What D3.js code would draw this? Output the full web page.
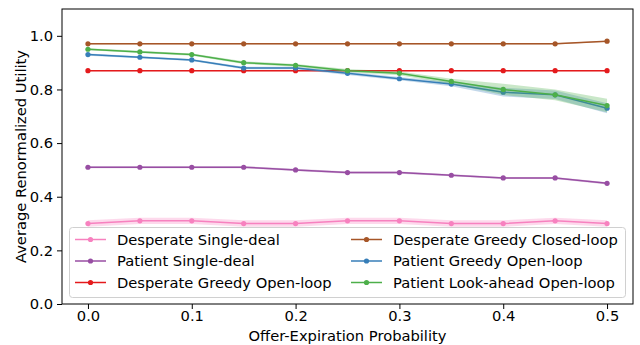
<!DOCTYPE html>
<html>
<head>
<meta charset="utf-8">
<script src="https://cdn.jsdelivr.net/npm/d3@7"></script>
<style>
  body { margin: 0; background: #fff; }
  text { font-family: "DejaVu Sans", sans-serif; fill: #000; }
</style>
</head>
<body>
<script>
// values
const xs = [0, 0.05, 0.1, 0.15, 0.2, 0.25, 0.3, 0.35, 0.4, 0.45, 0.5];

const names = [
    "Desperate Single-deal",
    "Patient Single-deal",
    "Desperate Greedy Open-loop",
    "Desperate Greedy Closed-loop",
    "Patient Greedy Open-loop",
    "Patient Look-ahead Open-loop"
];
const colors = ["#f781bf", "#984ea3", "#e41a1c", "#a65628", "#377eb8", "#4daf4a"];

const desperateSingle = [0.30, 0.31, 0.31, 0.30, 0.30, 0.31, 0.31, 0.30, 0.30, 0.31, 0.30];
const patientSingle   = [0.51, 0.51, 0.51, 0.51, 0.50, 0.49, 0.49, 0.48, 0.47, 0.47, 0.45];
const despGreedyOpen  = [0.87, 0.87, 0.87, 0.87, 0.87, 0.87, 0.87, 0.87, 0.87, 0.87, 0.87];
const despGreedyClose = [0.97, 0.97, 0.97, 0.97, 0.97, 0.97, 0.97, 0.97, 0.97, 0.97, 0.98];
const patGreedyOpen   = [0.93, 0.92, 0.91, 0.88, 0.88, 0.86, 0.84, 0.82, 0.79, 0.78, 0.73];
const patLookahead    = [0.95, 0.94, 0.93, 0.90, 0.89, 0.87, 0.86, 0.83, 0.80, 0.78, 0.74];

// half-width of the shaded bands
const errSingleD = [0.012, 0.012, 0.012, 0.012, 0.012, 0.012, 0.012, 0.012, 0.012, 0.012, 0.012];
const errSingleP = [0.004, 0.004, 0.004, 0.004, 0.004, 0.004, 0.004, 0.004, 0.004, 0.004, 0.004];
const errGreedyD = [0.002, 0.002, 0.002, 0.002, 0.002, 0.002, 0.002, 0.002, 0.002, 0.002, 0.002];
const errClosedD = [0.002, 0.002, 0.002, 0.002, 0.002, 0.002, 0.002, 0.002, 0.002, 0.002, 0.002];
const errGreedyP = [0.004, 0.004, 0.004, 0.005, 0.005, 0.006, 0.006, 0.008, 0.016, 0.016, 0.019];
const errLookP   = [0.004, 0.004, 0.004, 0.005, 0.005, 0.006, 0.007, 0.010, 0.021, 0.020, 0.025];

const seriesValues = [desperateSingle, patientSingle, despGreedyOpen, despGreedyClose, patGreedyOpen, patLookahead];
const seriesErr = [errSingleD, errSingleP, errGreedyD, errClosedD, errGreedyP, errLookP];

const xTicks = [0, 0.1, 0.2, 0.3, 0.4, 0.5];
const yTicks = [0, 0.2, 0.4, 0.6, 0.8, 1.0];

const width = 640, height = 345;
const margin = {left: 62, right: 7, top: 9, bottom: 41};
const fontSize = 14.7;

const x = d3.scaleLinear()
    .domain([-0.025, 0.525])
    .range([margin.left, width - margin.right]);
const y = d3.scaleLinear()
    .domain([0, 1.1])
    .range([height - margin.bottom, margin.top]);

const svg = d3.select("body").append("svg")
    .attr("width", width)
    .attr("height", height);

const series = names.map(function (n, i) {
    return {
        name: n,
        color: colors[i],
        points: xs.map(function (xv, j) {
            return {x: xv, y: seriesValues[i][j], e: seriesErr[i][j]};
        })
    };
});

const area = d3.area()
    .x(function (d) { return x(d.x); })
    .y0(function (d) { return y(d.y - d.e); })
    .y1(function (d) { return y(d.y + d.e); });
const line = d3.line()
    .x(function (d) { return x(d.x); })
    .y(function (d) { return y(d.y); });

const g = svg.selectAll("g.series")
    .data(series)
    .enter()
    .append("g")
    .attr("class", "series");

g.append("path")
    .attr("d", function (d) { return area(d.points); })
    .attr("fill", function (d) { return d.color; })
    .attr("opacity", 0.3);

g.append("path")
    .attr("d", function (d) { return line(d.points); })
    .attr("fill", "none")
    .attr("stroke", function (d) { return d.color; })
    .attr("stroke-width", 1.5);

g.selectAll("circle")
    .data(function (d) { return d.points.map(function (p) { return {p: p, c: d.color}; }); })
    .enter()
    .append("circle")
    .attr("cx", function (d) { return x(d.p.x); })
    .attr("cy", function (d) { return y(d.p.y); })
    .attr("r", 2.6)
    .attr("fill", function (d) { return d.c; });

// axes
const xAxis = svg.append("g")
    .attr("transform", "translate(0," + (height - margin.bottom) + ")")
    .call(d3.axisBottom(x).tickValues(xTicks).tickFormat(d3.format(".1f")).tickSize(5).tickSizeOuter(0));
const yAxis = svg.append("g")
    .attr("transform", "translate(" + margin.left + ",0)")
    .call(d3.axisLeft(y).tickValues(yTicks).tickFormat(d3.format(".1f")).tickSize(5).tickSizeOuter(0));

[xAxis, yAxis].forEach(function (a) {
    a.select(".domain").remove();
    a.selectAll("line").attr("stroke", "#000").attr("stroke-width", 1);
    a.selectAll("text").attr("font-size", fontSize).attr("font-family", "DejaVu Sans");
});
xAxis.selectAll("text").attr("y", 7);
yAxis.selectAll("text").attr("x", -9);

svg.append("rect")
    .attr("x", margin.left)
    .attr("y", margin.top)
    .attr("width", width - margin.left - margin.right)
    .attr("height", height - margin.top - margin.bottom)
    .attr("fill", "none")
    .attr("stroke", "#000")
    .attr("stroke-width", 1);

svg.append("text")
    .attr("x", (x.range()[0] + x.range()[1]) / 2)
    .attr("y", 340.5)
    .attr("text-anchor", "middle")
    .attr("font-size", fontSize)
    .text("Offer-Expiration Probability");

svg.append("text")
    .attr("transform", "translate(26," + ((y.range()[0] + y.range()[1]) / 2) + ") rotate(-90)")
    .attr("text-anchor", "middle")
    .attr("font-size", fontSize)
    .text("Average Renormalized Utility");

// legend, two columns
const legend = svg.append("g");
legend.append("rect")
    .attr("x", 69.5).attr("y", 227.5)
    .attr("width", 556).attr("height", 70)
    .attr("rx", 3)
    .attr("fill", "#fff").attr("fill-opacity", 0.8)
    .attr("stroke", "#d0d0d0");

const colX = [75, 351];
const rowY = [239.5, 261, 282.5];
series.forEach(function (s, i) {
    const cx = colX[Math.floor(i / 3)], cy = rowY[i % 3];
    const item = legend.append("g").attr("transform", "translate(" + cx + "," + cy + ")");
    item.append("line")
        .attr("x1", 0).attr("x2", 31)
        .attr("stroke", s.color).attr("stroke-width", 1.5);
    item.append("circle").attr("cx", 15.5).attr("r", 2.6).attr("fill", s.color);
    item.append("text")
        .attr("x", 42).attr("dy", "0.36em")
        .attr("font-size", fontSize)
        .text(s.name);
});
</script>
</body>
</html>
